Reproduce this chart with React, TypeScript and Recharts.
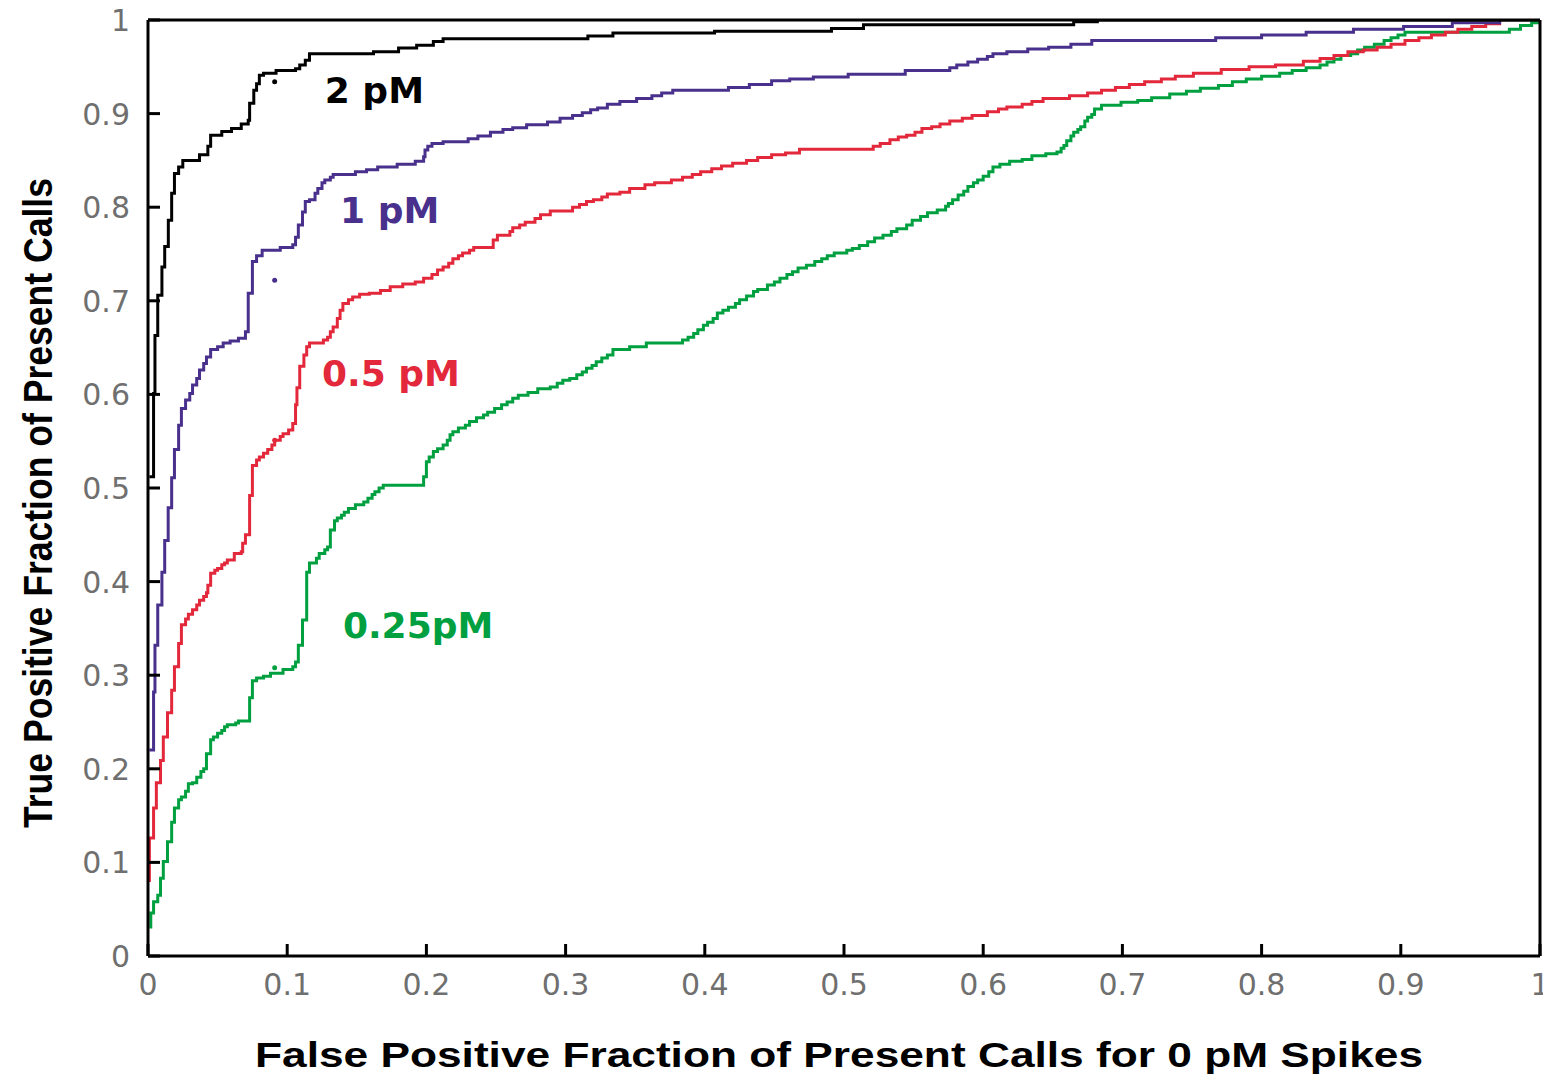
import { LineChart, Line, XAxis, YAxis, ReferenceDot } from 'recharts';

// ROC-style step curves: [false positive fraction, true positive fraction]
const curve2pM: [number, number][] = [
  [0.001, 0.512], [0.004, 0.601], [0.005, 0.663], [0.007, 0.706], [0.010, 0.736], [0.012, 0.758],
  [0.0146, 0.786], [0.017, 0.815], [0.019, 0.836], [0.022, 0.843], [0.025, 0.850], [0.037, 0.856],
  [0.043, 0.865], [0.045, 0.877], [0.053, 0.881], [0.060, 0.884], [0.067, 0.889], [0.072, 0.893],
  [0.073, 0.911], [0.076, 0.925], [0.078, 0.932], [0.080, 0.941], [0.083, 0.943], [0.092, 0.946],
  [0.106, 0.948], [0.109, 0.952], [0.113, 0.957], [0.116, 0.964], [0.162, 0.966], [0.180, 0.970],
  [0.193, 0.973], [0.205, 0.977], [0.212, 0.980], [0.316, 0.983], [0.334, 0.986], [0.407, 0.988],
  [0.491, 0.991], [0.514, 0.995], [0.665, 0.998], [0.682, 1.0], [1.0, 1.0],
];

const curve1pM: [number, number][] = [
  [0.001, 0.220], [0.004, 0.282], [0.005, 0.332], [0.007, 0.375], [0.010, 0.410], [0.012, 0.444],
  [0.0145, 0.479], [0.017, 0.511], [0.019, 0.541], [0.022, 0.567], [0.024, 0.585], [0.027, 0.594],
  [0.030, 0.601], [0.032, 0.610], [0.035, 0.617], [0.037, 0.626], [0.040, 0.633], [0.042, 0.640],
  [0.045, 0.648], [0.050, 0.651], [0.054, 0.655], [0.059, 0.657], [0.065, 0.660], [0.070, 0.667],
  [0.072, 0.708], [0.075, 0.742], [0.078, 0.748], [0.082, 0.754], [0.095, 0.757], [0.104, 0.760],
  [0.106, 0.768], [0.108, 0.781], [0.111, 0.795], [0.113, 0.806], [0.116, 0.808], [0.120, 0.815],
  [0.122, 0.820], [0.125, 0.826], [0.127, 0.829], [0.131, 0.832], [0.133, 0.835], [0.149, 0.838],
  [0.157, 0.840], [0.165, 0.843], [0.179, 0.846], [0.192, 0.849], [0.198, 0.854], [0.199, 0.861],
  [0.201, 0.865], [0.204, 0.868], [0.212, 0.870], [0.230, 0.873], [0.237, 0.876], [0.246, 0.880],
  [0.255, 0.883], [0.262, 0.885], [0.272, 0.888], [0.287, 0.891], [0.296, 0.895], [0.305, 0.898],
  [0.312, 0.901], [0.318, 0.904], [0.323, 0.906], [0.330, 0.910], [0.339, 0.913], [0.351, 0.916],
  [0.362, 0.919], [0.369, 0.922], [0.377, 0.925], [0.417, 0.928], [0.432, 0.931], [0.448, 0.935],
  [0.461, 0.937], [0.478, 0.939], [0.503, 0.942], [0.544, 0.946], [0.576, 0.949], [0.581, 0.952],
  [0.589, 0.955], [0.596, 0.958], [0.603, 0.961], [0.607, 0.964], [0.617, 0.966], [0.632, 0.969],
  [0.647, 0.971], [0.663, 0.974], [0.678, 0.978], [0.767, 0.981], [0.800, 0.984], [0.832, 0.987],
  [0.866, 0.990], [0.902, 0.993], [0.937, 0.997], [0.971, 1.0],
];

const curve05pM: [number, number][] = [
  [0.001, 0.079], [0.001, 0.126], [0.004, 0.158], [0.006, 0.185], [0.009, 0.209], [0.011, 0.234],
  [0.014, 0.260], [0.017, 0.284], [0.019, 0.309], [0.022, 0.334], [0.024, 0.354], [0.027, 0.360],
  [0.029, 0.365], [0.032, 0.370], [0.035, 0.375], [0.037, 0.380], [0.040, 0.384], [0.042, 0.388],
  [0.043, 0.396], [0.045, 0.409], [0.048, 0.412], [0.050, 0.414], [0.053, 0.418], [0.055, 0.420],
  [0.057, 0.423], [0.062, 0.430], [0.067, 0.432], [0.068, 0.441], [0.070, 0.450], [0.073, 0.492],
  [0.075, 0.524], [0.078, 0.530], [0.080, 0.533], [0.083, 0.537], [0.086, 0.541], [0.089, 0.546],
  [0.091, 0.551], [0.095, 0.555], [0.097, 0.558], [0.101, 0.562], [0.104, 0.569], [0.106, 0.589],
  [0.107, 0.607], [0.109, 0.630], [0.112, 0.642], [0.114, 0.651], [0.116, 0.655], [0.126, 0.658],
  [0.129, 0.661], [0.131, 0.667], [0.133, 0.672], [0.136, 0.681], [0.138, 0.690], [0.140, 0.697],
  [0.144, 0.701], [0.147, 0.704], [0.152, 0.707], [0.159, 0.708], [0.167, 0.711], [0.174, 0.715],
  [0.183, 0.718], [0.192, 0.720], [0.198, 0.724], [0.204, 0.728], [0.208, 0.733], [0.212, 0.736],
  [0.216, 0.740], [0.219, 0.745], [0.223, 0.748], [0.226, 0.751], [0.231, 0.754], [0.234, 0.757],
  [0.248, 0.765], [0.251, 0.770], [0.260, 0.774], [0.262, 0.778], [0.267, 0.781], [0.271, 0.784],
  [0.278, 0.788], [0.282, 0.792], [0.289, 0.796], [0.305, 0.800], [0.310, 0.803], [0.315, 0.806],
  [0.320, 0.808], [0.326, 0.811], [0.330, 0.814], [0.339, 0.816], [0.346, 0.820], [0.357, 0.824],
  [0.364, 0.826], [0.376, 0.829], [0.384, 0.832], [0.391, 0.835], [0.397, 0.838], [0.405, 0.841],
  [0.412, 0.844], [0.420, 0.847], [0.430, 0.850], [0.438, 0.853], [0.448, 0.856], [0.458, 0.858],
  [0.468, 0.862], [0.521, 0.865], [0.526, 0.868], [0.533, 0.872], [0.539, 0.875], [0.545, 0.877],
  [0.551, 0.880], [0.556, 0.884], [0.563, 0.886], [0.569, 0.889], [0.576, 0.892], [0.585, 0.895],
  [0.592, 0.898], [0.603, 0.902], [0.611, 0.905], [0.617, 0.907], [0.628, 0.910], [0.635, 0.913],
  [0.643, 0.916], [0.662, 0.919], [0.675, 0.922], [0.685, 0.925], [0.695, 0.928], [0.705, 0.931],
  [0.716, 0.934], [0.728, 0.937], [0.738, 0.940], [0.751, 0.943], [0.771, 0.947], [0.791, 0.950],
  [0.810, 0.952], [0.830, 0.956], [0.842, 0.959], [0.852, 0.962], [0.862, 0.966], [0.873, 0.968],
  [0.883, 0.971], [0.893, 0.974], [0.903, 0.978], [0.913, 0.981], [0.922, 0.984], [0.932, 0.987],
  [0.941, 0.990], [0.951, 0.993], [0.961, 0.996], [0.971, 0.999],
];

const curve025pM: [number, number][] = [
  [0.001, 0.031], [0.002, 0.046], [0.004, 0.058], [0.007, 0.065], [0.009, 0.083], [0.011, 0.101],
  [0.014, 0.122], [0.017, 0.143], [0.019, 0.158], [0.022, 0.167], [0.024, 0.170], [0.027, 0.176],
  [0.029, 0.184], [0.032, 0.185], [0.035, 0.191], [0.038, 0.197], [0.040, 0.200], [0.042, 0.216],
  [0.045, 0.231], [0.047, 0.234], [0.050, 0.238], [0.053, 0.241], [0.055, 0.245], [0.057, 0.247],
  [0.063, 0.249], [0.065, 0.251], [0.073, 0.276], [0.075, 0.294], [0.078, 0.297], [0.083, 0.299],
  [0.088, 0.302], [0.097, 0.306], [0.104, 0.309], [0.106, 0.314], [0.108, 0.332], [0.111, 0.359],
  [0.114, 0.410], [0.116, 0.420], [0.121, 0.425], [0.123, 0.430], [0.127, 0.434], [0.129, 0.437],
  [0.131, 0.455], [0.134, 0.465], [0.136, 0.468], [0.139, 0.471], [0.141, 0.474], [0.144, 0.478],
  [0.149, 0.482], [0.155, 0.485], [0.158, 0.489], [0.161, 0.493], [0.163, 0.496], [0.166, 0.500],
  [0.169, 0.503], [0.198, 0.512], [0.200, 0.528], [0.202, 0.533], [0.205, 0.539], [0.208, 0.542],
  [0.212, 0.546], [0.215, 0.551], [0.217, 0.557], [0.219, 0.560], [0.223, 0.564], [0.228, 0.567],
  [0.231, 0.571], [0.236, 0.575], [0.241, 0.578], [0.244, 0.581], [0.249, 0.585], [0.254, 0.589],
  [0.258, 0.592], [0.262, 0.596], [0.266, 0.599], [0.273, 0.602], [0.280, 0.606], [0.289, 0.608],
  [0.294, 0.612], [0.298, 0.615], [0.303, 0.617], [0.308, 0.621], [0.312, 0.624], [0.315, 0.628],
  [0.319, 0.631], [0.322, 0.635], [0.326, 0.639], [0.330, 0.642], [0.334, 0.648], [0.346, 0.651],
  [0.358, 0.655], [0.384, 0.658], [0.388, 0.661], [0.392, 0.665], [0.395, 0.669], [0.399, 0.674],
  [0.402, 0.677], [0.406, 0.681], [0.409, 0.687], [0.413, 0.690], [0.417, 0.693], [0.422, 0.697],
  [0.425, 0.701], [0.430, 0.705], [0.435, 0.710], [0.438, 0.712], [0.445, 0.717], [0.450, 0.720],
  [0.454, 0.724], [0.459, 0.728], [0.463, 0.731], [0.467, 0.735], [0.473, 0.738], [0.479, 0.742],
  [0.484, 0.745], [0.488, 0.748], [0.493, 0.751], [0.502, 0.754], [0.506, 0.756], [0.511, 0.759],
  [0.517, 0.763], [0.522, 0.767], [0.528, 0.770], [0.534, 0.774], [0.538, 0.777], [0.545, 0.781],
  [0.549, 0.786], [0.555, 0.790], [0.560, 0.794], [0.567, 0.797], [0.573, 0.801], [0.575, 0.804],
  [0.578, 0.808], [0.582, 0.813], [0.586, 0.817], [0.589, 0.822], [0.593, 0.826], [0.596, 0.829],
  [0.600, 0.833], [0.604, 0.838], [0.607, 0.843], [0.612, 0.846], [0.619, 0.849], [0.628, 0.851],
  [0.635, 0.855], [0.645, 0.857], [0.653, 0.859], [0.656, 0.863], [0.658, 0.866], [0.660, 0.871],
  [0.663, 0.876], [0.665, 0.880], [0.668, 0.883], [0.670, 0.886], [0.673, 0.892], [0.675, 0.896],
  [0.678, 0.899], [0.680, 0.905], [0.685, 0.909], [0.699, 0.912], [0.711, 0.914], [0.721, 0.917],
  [0.734, 0.921], [0.746, 0.924], [0.756, 0.927], [0.769, 0.930], [0.779, 0.934], [0.789, 0.937],
  [0.800, 0.940], [0.813, 0.943], [0.822, 0.946], [0.832, 0.949], [0.842, 0.952], [0.847, 0.955],
  [0.852, 0.958], [0.857, 0.962], [0.864, 0.964], [0.869, 0.968], [0.874, 0.971], [0.881, 0.974],
  [0.888, 0.978], [0.893, 0.981], [0.898, 0.984], [0.903, 0.987], [0.978, 0.990], [0.986, 0.994],
  [0.994, 0.997], [1.0, 1.0],
];

const TICKS = [0, 0.1, 0.2, 0.3, 0.4, 0.5, 0.6, 0.7, 0.8, 0.9, 1];

const seriesNames = ['0.25pM', '0.5 pM', '1 pM', '2 pM'];
const seriesColors = ['#00a040', '#e2283a', '#48308c', '#000000'];
const seriesCurves = [curve025pM, curve05pM, curve1pM, curve2pM];

// where each in-plot label starts (left edge, baseline), in data units
const labelX = [0.140, 0.125, 0.138, 0.127];
const labelY = [0.340, 0.609, 0.783, 0.911];

// the little marks next to each curve at ~0.09
const markX = [0.091, 0.091, 0.091, 0.091];
const markY = [0.308, 0.551, 0.722, 0.934];

const fmt = (v: number) => (v === 0 ? '0' : v === 1 ? '1' : v.toFixed(1));

const XTick = ({ x, y, payload }: any) => (
  <text x={x} y={y} textAnchor="middle" fontFamily="DejaVu Sans" fontSize={30} fill="#6f6f6f">
    {fmt(payload.value)}
  </text>
);

const YTick = ({ x, y, payload }: any) => (
  <text x={x} y={y + 11} textAnchor="end" fontFamily="DejaVu Sans" fontSize={30} fill="#6f6f6f">
    {fmt(payload.value)}
  </text>
);

const axisLine = { stroke: '#000', strokeWidth: 3 };
const tickLine = { stroke: '#000', strokeWidth: 3 };

export default function App() {
  const series = seriesCurves.map((c) => c.map(([x, y]) => ({ x, y })));

  return (
    <div style={{ position: 'absolute', left: 0, top: 0, width: 1543, height: 1076, background: '#fff' }}>
      <LineChart width={1543} height={1076} margin={{ top: 19, right: 2, bottom: 0, left: 0 }}>
        <XAxis
          dataKey="x"
          type="number"
          domain={[0, 1]}
          ticks={TICKS}
          allowDataOverflow
          height={120}
          axisLine={axisLine}
          tickLine={tickLine}
          tickSize={-12}
          tickMargin={51}
          tick={<XTick />}
          interval={0}
        />
        <XAxis
          xAxisId="top"
          orientation="top"
          type="number"
          domain={[0, 1]}
          ticks={TICKS}
          height={1}
          axisLine={axisLine}
          tickLine={tickLine}
          tickSize={-12}
          tick={false}
          interval={0}
        />
        <YAxis
          type="number"
          domain={[0, 1]}
          ticks={TICKS}
          allowDataOverflow
          width={148}
          axisLine={axisLine}
          tickLine={tickLine}
          tickSize={-12}
          tickMargin={30}
          tick={<YTick />}
          interval={0}
        />
        <YAxis
          yAxisId="right"
          orientation="right"
          type="number"
          domain={[0, 1]}
          ticks={TICKS}
          width={1}
          axisLine={axisLine}
          tickLine={tickLine}
          tickSize={-12}
          tick={false}
          interval={0}
        />
        {series.map((d, i) => (
          <Line
            key={seriesNames[i]}
            data={d}
            dataKey="y"
            name={seriesNames[i]}
            type="stepAfter"
            stroke={seriesColors[i]}
            strokeWidth={3}
            dot={false}
            isAnimationActive={false}
          />
        ))}
        {markX.map((mx, i) => (
          <ReferenceDot
            key={`m-${i}`}
            x={mx}
            y={markY[i]}
            r={2.5}
            fill={seriesColors[i]}
            stroke="none"
          />
        ))}
        {labelX.map((lx, i) => (
          <ReferenceDot
            key={`l-${i}`}
            x={lx}
            y={labelY[i]}
            r={0}
            shape={(p: any) => (
              <text
                x={p.cx}
                y={p.cy}
                fontFamily="DejaVu Sans"
                fontWeight="bold"
                fontSize={36}
                fill={seriesColors[i]}
              >
                {seriesNames[i]}
              </text>
            )}
          />
        ))}
        <text
          x={839}
          y={1067}
          textAnchor="middle"
          fontFamily="Liberation Sans"
          fontWeight="bold"
          fontSize={35}
          textLength={1168}
          lengthAdjust="spacingAndGlyphs"
          fill="#000"
        >
          False Positive Fraction of Present Calls for 0 pM Spikes
        </text>
        <text
          x={52}
          y={503}
          transform="rotate(-90, 52, 503)"
          textAnchor="middle"
          fontFamily="Liberation Sans"
          fontWeight="bold"
          fontSize={41}
          textLength={650}
          lengthAdjust="spacingAndGlyphs"
          fill="#000"
        >
          True Positive Fraction of Present Calls
        </text>
      </LineChart>
    </div>
  );
}
